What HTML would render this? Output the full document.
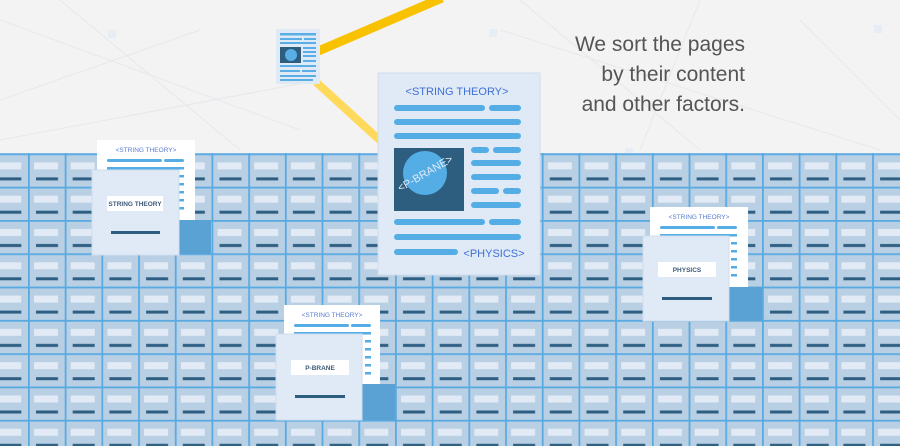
<!DOCTYPE html>
<html><head><meta charset="utf-8"><style>
html,body{margin:0;padding:0;width:900px;height:446px;overflow:hidden;background:#f3f3f3}
svg{display:block}
text{font-family:"Liberation Sans",sans-serif}
</style></head><body>
<svg width="900" height="446" viewBox="0 0 900 446" xmlns="http://www.w3.org/2000/svg">
<defs>
<pattern id="cell" x="-8.7" y="153.4" width="36.7" height="33.3" patternUnits="userSpaceOnUse">
<rect width="36.7" height="33.3" fill="#b8cfe4"/>
<rect x="0" y="0" width="36.7" height="1.8" fill="#5aaae2"/>
<rect x="0" y="0" width="1.8" height="33.3" fill="#5aaae2"/>
<rect x="6" y="9" width="24" height="7" fill="#e2ebf5"/>
<rect x="8" y="24" width="22" height="3" fill="#2e5f82"/>
</pattern>
</defs>
<rect width="900" height="446" fill="#f3f3f3"/>
<g stroke="#e6e8ec" stroke-width="1" fill="none">
<line x1="0" y1="20" x2="300" y2="130"/><line x1="60" y1="0" x2="240" y2="150"/>
<line x1="500" y1="30" x2="880" y2="150"/><line x1="700" y1="0" x2="640" y2="150"/>
<line x1="0" y1="100" x2="200" y2="30"/><line x1="800" y1="20" x2="900" y2="120"/>
<line x1="320" y1="80" x2="0" y2="140"/><line x1="520" y1="0" x2="700" y2="150"/>
</g>
<rect x="108" y="30" width="8" height="8" fill="#e6edf4"/><rect x="489" y="29" width="8" height="8" fill="#e6edf4"/>
<rect x="874" y="25" width="8" height="8" fill="#e6edf4"/><rect x="625" y="148" width="8" height="8" fill="#e6edf4"/>
<rect x="0" y="153" width="900" height="293" fill="url(#cell)"/>
<line x1="316" y1="52" x2="442" y2="-2" stroke="#f8c200" stroke-width="9"/>
<line x1="316" y1="82" x2="385" y2="145" stroke="#ffd95c" stroke-width="8"/>
<rect x="276" y="29" width="44" height="55" fill="#dfeaf6"/>
<g fill="#5aaee6">
<rect x="280" y="33" width="36" height="2.5"/><rect x="280" y="38" width="22" height="2"/><rect x="304" y="38" width="12" height="2"/>
<rect x="280" y="42" width="36" height="2"/>
<rect x="303" y="47" width="13" height="2"/><rect x="303" y="51" width="13" height="2"/><rect x="303" y="55" width="13" height="2"/><rect x="303" y="60" width="13" height="2"/>
<rect x="280" y="65" width="36" height="2"/><rect x="280" y="70" width="20" height="2"/><rect x="302" y="70" width="14" height="2"/><rect x="280" y="75" width="36" height="2"/><rect x="280" y="79" width="33" height="2"/>
</g>
<rect x="280" y="47" width="21" height="16" fill="#2d5d7f"/><circle cx="291" cy="55" r="6" fill="#5aaee6"/>
<rect x="378" y="73" width="162" height="202" fill="#dfeaf6" stroke="#cfdceb"/>
<text x="457" y="95" text-anchor="middle" font-size="11" fill="#3f6fd6">&lt;STRING THEORY&gt;</text>
<g fill="#55ade5">
<rect x="394" y="105" width="91" height="6" rx="3"/><rect x="489" y="105" width="32" height="6" rx="3"/>
<rect x="394" y="119" width="127" height="6" rx="3"/><rect x="394" y="133" width="127" height="6" rx="3"/>
<rect x="471" y="147" width="18" height="6" rx="3"/><rect x="493" y="147" width="28" height="6" rx="3"/>
<rect x="471" y="160" width="50" height="6" rx="3"/><rect x="471" y="174" width="50" height="6" rx="3"/>
<rect x="471" y="188" width="28" height="6" rx="3"/><rect x="503" y="188" width="18" height="6" rx="3"/>
<rect x="471" y="202" width="50" height="6" rx="3"/>
<rect x="394" y="219" width="91" height="6" rx="3"/><rect x="489" y="219" width="32" height="6" rx="3"/>
<rect x="394" y="234" width="127" height="6" rx="3"/>
<rect x="394" y="249" width="64" height="6" rx="3"/>
</g>
<rect x="394" y="148" width="70" height="63" fill="#2d5d7f"/>
<circle cx="425" cy="173" r="22" fill="#55ade5"/>
<text x="425" y="177" text-anchor="middle" font-size="11" fill="#dfeaf6" transform="rotate(-30 425 173)">&lt;P-BRANE&gt;</text>
<text x="494" y="257" text-anchor="middle" font-size="11" fill="#3f6fd6">&lt;PHYSICS&gt;</text>
<g>
<rect x="97" y="140" width="98" height="80" fill="#ffffff"/>
<text x="146" y="152" text-anchor="middle" font-size="6.5" fill="#5a7bd0">&lt;STRING THEORY&gt;</text>
<rect x="107" y="159" width="55" height="3" rx="1.5" fill="#55ade5"/><rect x="164" y="159" width="20" height="3" rx="1.5" fill="#55ade5"/>
<g fill="#55ade5"><rect x="107" y="167" width="77" height="2.5"/><rect x="178" y="175" width="6" height="2.5"/><rect x="178" y="183" width="6" height="2.5"/><rect x="178" y="191" width="6" height="2.5"/><rect x="178" y="199" width="6" height="2.5"/><rect x="178" y="207" width="6" height="2.5"/></g>
<rect x="178" y="220" width="33" height="34" fill="#5aa2d3"/>
<rect x="92" y="170" width="87" height="85" fill="#dfeaf6" stroke="#cfdceb"/>
<rect x="107" y="196" width="56" height="15" fill="#fff"/>
<text x="135" y="206" text-anchor="middle" font-size="6.5" font-weight="bold" fill="#3d5a78">STRING THEORY</text>
<rect x="111" y="231" width="49" height="3" fill="#2d5d7f"/>
</g>
<g transform="translate(553,67)">
<rect x="97" y="140" width="98" height="80" fill="#ffffff"/>
<text x="146" y="152" text-anchor="middle" font-size="6.5" fill="#5a7bd0">&lt;STRING THEORY&gt;</text>
<rect x="107" y="159" width="55" height="3" rx="1.5" fill="#55ade5"/><rect x="164" y="159" width="20" height="3" rx="1.5" fill="#55ade5"/>
<g fill="#55ade5"><rect x="107" y="167" width="77" height="2.5"/><rect x="178" y="175" width="6" height="2.5"/><rect x="178" y="183" width="6" height="2.5"/><rect x="178" y="191" width="6" height="2.5"/><rect x="178" y="199" width="6" height="2.5"/><rect x="178" y="207" width="6" height="2.5"/></g>
<rect x="176" y="220" width="33" height="34" fill="#5aa2d3"/>
<rect x="90" y="169" width="86" height="85" fill="#dfeaf6" stroke="#cfdceb"/>
<rect x="105" y="195" width="58" height="15" fill="#fff"/>
<text x="134" y="205" text-anchor="middle" font-size="6.5" font-weight="bold" fill="#3d5a78">PHYSICS</text>
<rect x="109" y="230" width="50" height="3" fill="#2d5d7f"/>
</g>
<g transform="translate(187,165)">
<rect x="97" y="140" width="96" height="79" fill="#ffffff"/>
<text x="145" y="152" text-anchor="middle" font-size="6.5" fill="#5a7bd0">&lt;STRING THEORY&gt;</text>
<rect x="107" y="159" width="55" height="3" rx="1.5" fill="#55ade5"/><rect x="164" y="159" width="20" height="3" rx="1.5" fill="#55ade5"/>
<g fill="#55ade5"><rect x="107" y="167" width="77" height="2.5"/><rect x="178" y="175" width="6" height="2.5"/><rect x="178" y="183" width="6" height="2.5"/><rect x="178" y="191" width="6" height="2.5"/><rect x="178" y="199" width="6" height="2.5"/><rect x="178" y="207" width="6" height="2.5"/></g>
<rect x="175" y="219" width="33" height="36" fill="#5aa2d3"/>
<rect x="89" y="169" width="86" height="86" fill="#dfeaf6" stroke="#cfdceb"/>
<rect x="104" y="195" width="58" height="15" fill="#fff"/>
<text x="133" y="205" text-anchor="middle" font-size="6.5" font-weight="bold" fill="#3d5a78">P-BRANE</text>
<rect x="108" y="230" width="50" height="3" fill="#2d5d7f"/>
</g>
<g font-size="21" fill="#555" text-anchor="end">
<text x="745" y="51">We sort the pages</text>
<text x="745" y="81">by their content</text>
<text x="745" y="111">and other factors.</text>
</g>
</svg>
</body></html>
